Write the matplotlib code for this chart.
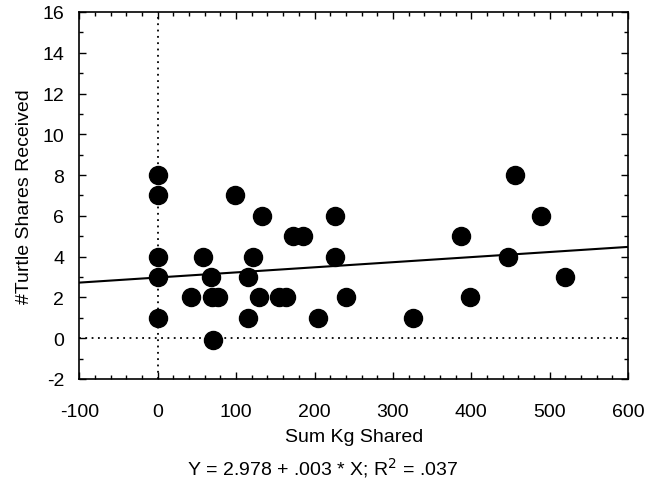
import matplotlib
matplotlib.use("Agg")
import matplotlib.pyplot as plt
from matplotlib.ticker import MultipleLocator
import numpy as np

plt.rcParams['font.family'] = ['Liberation Sans', 'DejaVu Sans']
plt.rcParams['axes.unicode_minus'] = False

# sum kg shared vs number of turtle shares received
kg_shared = [0, 0, 0, 0, 0, 42, 58, 68, 69, 77, 70, 98, 115, 115, 122, 133,
             129, 155, 164, 172, 185, 204, 226, 226, 240, 326, 387, 399,
             447, 456, 489, 520]
shares = [8, 7, 4, 3, 1, 2, 4, 3, 2, 2, -0.1, 7, 1, 3, 4, 6,
          2, 2, 2, 5, 5, 1, 6, 4, 2, 1, 5, 2,
          4, 8, 6, 3]

intercept = 2.978
slope = 0.0025
caption = "Y = 2.978 + .003 * X; R$^2$ = .037"

fig = plt.figure(figsize=(6.46, 4.81), dpi=100)
ax = fig.add_axes([0.123, 0.21, 0.849, 0.763])

ax.axvline(0, color="black", linestyle=(0, (1, 2.5)), linewidth=1.3, zorder=1)
ax.axhline(0, color="black", linestyle=(0, (1, 2.5)), linewidth=1.3, zorder=1)

xs = np.array([-100, 600])
ax.plot(xs, intercept + slope * xs, color="black", linewidth=1.5, zorder=2)

ax.plot(kg_shared, shares, "o", color="black", markersize=13, zorder=3)

ax.set_xlim(-100, 600)
ax.set_ylim(-2, 16)
ax.xaxis.set_major_locator(MultipleLocator(100))
ax.xaxis.set_minor_locator(MultipleLocator(20))
ax.yaxis.set_major_locator(MultipleLocator(2))
ax.yaxis.set_minor_locator(MultipleLocator(1))
ax.tick_params(which="both", direction="in", top=True, right=True,
               labelsize=14, width=1)
ax.tick_params(which="major", length=5)
ax.tick_params(which="minor", length=3)
ax.tick_params(axis="x", which="major", pad=17)
ax.tick_params(axis="y", which="major", pad=11)
for s in ax.spines.values():
    s.set_linewidth(1.2)

ax.set_xlabel("Sum Kg Shared", fontsize=14, labelpad=6)
ax.set_ylabel("#Turtle Shares Received", fontsize=14, labelpad=7)
fig.text(0.5, 0.027, caption, ha="center", va="center", fontsize=14)

fig.savefig("out.png", dpi=100)
